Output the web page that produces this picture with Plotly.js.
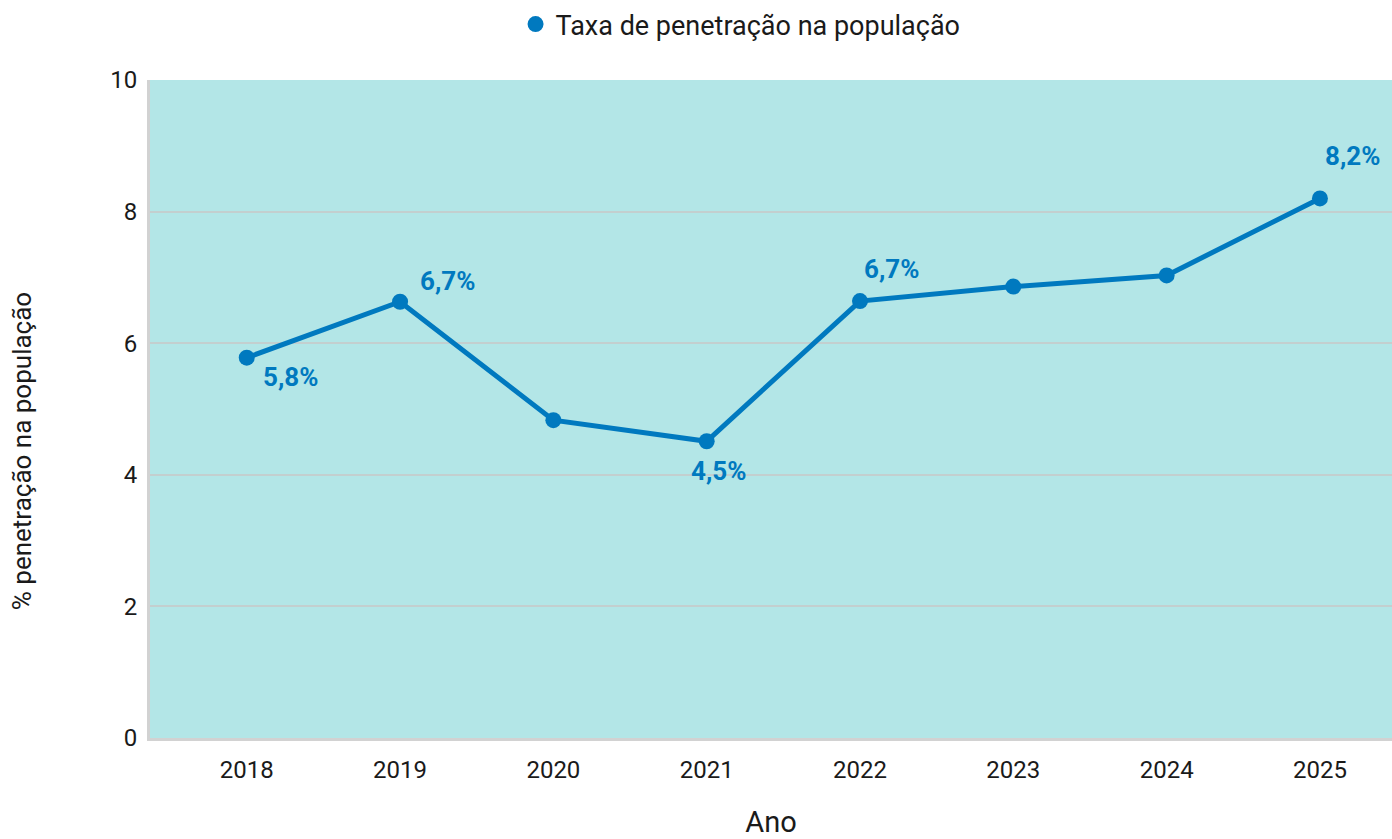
<!DOCTYPE html>
<html>
<head>
<meta charset="utf-8">
<script src="https://cdn.plot.ly/plotly-3.0.1.min.js"></script>
<style>
	html, body { margin: 0; padding: 0; background: #ffffff; }
	#chart { width: 1392px; height: 839px; }
</style>
</head>
<body>
<div id="chart"></div>
<script>
// valores
var anos = [2018, 2019, 2020, 2021, 2022, 2023, 2024, 2025];
var taxa = [5.78, 6.63, 4.83, 4.51, 6.64, 6.86, 7.03, 8.20];
var rotulos = ['5,8%', '6,7%', '', '4,5%', '6,7%', '', '', '8,2%'];
var nomeSerie = 'Taxa de penetração na população';
var tituloY = '% penetração na população';
var tituloX = 'Ano';

var azul = '#0079bf';
var texto = '#1a1a1a';
var fonte = 'Roboto, "Noto Sans", sans-serif';

// deslocamento de cada rótulo em relação ao ponto
var desloc = [
	{xs: 14, ys: -19, xa: 'left'},
	{xs: 18, ys: 21, xa: 'left'},
	null,
	{xs: 12, ys: -30, xa: 'center'},
	{xs: 2, ys: 32, xa: 'left'},
	null,
	null,
	{xs: 3, ys: 42, xa: 'left'}
];

var annotations = [];
for (let i = 0; i < anos.length; i++) {
	if (!rotulos[i]) continue;
	annotations.push({
		x: anos[i], y: taxa[i], xref: 'x', yref: 'y',
		text: '<b>' + rotulos[i] + '</b>', showarrow: false,
		xanchor: desloc[i].xa, yanchor: 'middle',
		xshift: desloc[i].xs, yshift: desloc[i].ys,
		font: {family: fonte, size: 26, color: azul}
	});
}
// título do eixo y, um pouco abaixo do centro como no original
annotations.push({
	xref: 'paper', yref: 'paper', x: -0.103, y: 0.436,
	xanchor: 'center', yanchor: 'middle', textangle: -90,
	text: tituloY, showarrow: false,
	font: {family: fonte, size: 26, color: texto}
});

var data = [
	{
		x: anos, y: taxa, type: 'scatter', mode: 'lines+markers',
		name: nomeSerie, showlegend: false,
		line: {color: azul, width: 5},
		marker: {color: azul, size: 16},
		hoverinfo: 'x+y'
	},
	{
		x: [null], y: [null], type: 'scatter', mode: 'markers',
		name: nomeSerie, marker: {color: azul, size: 20}
	}
];

var layout = {
	width: 1392, height: 839,
	margin: {l: 150, r: 0, t: 80, b: 101},
	paper_bgcolor: '#ffffff',
	plot_bgcolor: '#b3e6e7',
	font: {family: fonte, size: 24, color: texto},
	showlegend: true,
	legend: {
		orientation: 'h', xref: 'container', yref: 'container',
		x: 0.532, y: 1.0, xanchor: 'center', yanchor: 'top',
		font: {family: fonte, size: 27, color: texto}
	},
	xaxis: {
		range: [2017.369, 2025.47],
		tickvals: anos, ticktext: anos.map(String),
		showgrid: false, zeroline: false,
		showline: true, linecolor: '#d2d2d2', linewidth: 3,
		ticks: '', ticklabelstandoff: 8,
		tickfont: {family: fonte, size: 24, color: texto},
		title: {text: tituloX, font: {family: fonte, size: 29, color: texto}, standoff: 34}
	},
	yaxis: {
		range: [0, 10], dtick: 2,
		showgrid: true, gridcolor: '#c3cfcf', gridwidth: 2,
		zeroline: false,
		showline: true, linecolor: '#d2d2d2', linewidth: 3,
		ticks: '', ticklabelstandoff: 5,
		tickfont: {family: fonte, size: 24, color: texto}
	},
	annotations: annotations
};

Plotly.newPlot('chart', data, layout, {displayModeBar: false});
</script>
</body>
</html>
